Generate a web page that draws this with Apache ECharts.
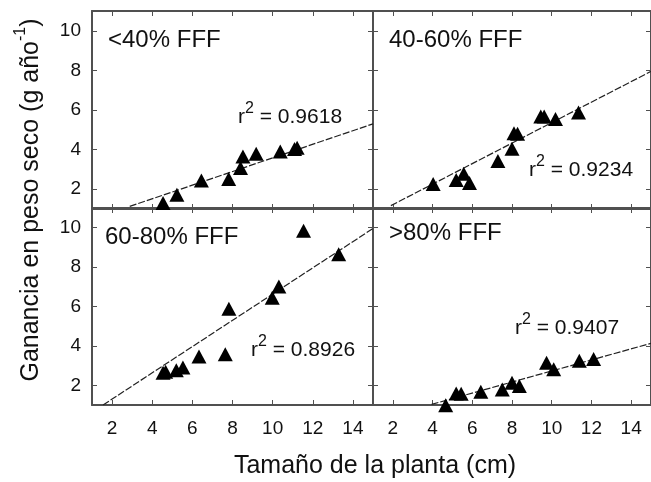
<!DOCTYPE html>
<html><head><meta charset="utf-8">
<script src="https://cdn.jsdelivr.net/npm/echarts@6/dist/echarts.min.js"></script>
<style>html,body{margin:0;padding:0;background:#fff}#c{width:651px;height:482px}</style>
</head><body><div id="c"></div>
<script>
// ---- data ----
const xTicks = [2, 4, 6, 8, 10, 12, 14];
const yTicks = [2, 4, 6, 8, 10];
const panelNames = ['<40% FFF', '40-60% FFF', '60-80% FFF', '>80% FFF'];
const r2Values = ['0.9618', '0.9234', '0.8926', '0.9407'];

const lt40X = [4.54, 5.23, 6.45, 7.81, 8.40, 8.52, 9.18, 10.38, 11.09, 11.22];
const lt40Y = [1.30, 1.72, 2.44, 2.51, 3.07, 3.65, 3.79, 3.90, 4.03, 4.09];

const p40X = [4.03, 5.19, 5.57, 5.86, 7.29, 8.00, 8.10, 8.28, 9.45, 9.62, 10.19, 11.35];
const p40Y = [2.26, 2.47, 2.78, 2.31, 3.43, 4.04, 4.83, 4.80, 5.67, 5.67, 5.54, 5.87];

const p60X = [4.54, 4.67, 5.20, 5.53, 6.33, 7.64, 7.82, 9.98, 10.31, 11.54, 13.29];
const p60Y = [2.64, 2.69, 2.77, 2.90, 3.46, 3.58, 5.88, 6.44, 7.02, 9.84, 8.65];

const gt80X = [4.66, 5.19, 5.44, 6.43, 7.51, 8.00, 8.37, 9.74, 10.10, 11.39, 12.11];
const gt80Y = [0.99, 1.59, 1.57, 1.67, 1.79, 2.13, 1.96, 3.15, 2.81, 3.24, 3.33];

const fitLt40 = [[2.88, 1.13], [15, 5.30]];
const fit40 = [[1.90, 1.17], [15, 7.95]];
const fit60 = [[1.55, 1.00], [15, 9.96]];
const fitGt80 = [[3.95, 1.03], [15, 4.13]];

// ---- layout / style ----
const FONT = '"Liberation Sans", Arial, Helvetica, sans-serif';
const AX = '#505050';
const grids = [
  {left: 92, top: 11, width: 281, height: 198},
  {left: 373, top: 11, width: 283, height: 198},
  {left: 92, top: 208, width: 281, height: 197},
  {left: 373, top: 208, width: 283, height: 197}
];

function xAx(g, pos, showLabel) {
  return {
    type: 'value', gridIndex: g, position: pos, min: 1, max: 15,
    axisLine: {show: true, onZero: false, lineStyle: {color: AX, width: 2}},
    axisTick: {show: true, inside: true, length: 5, customValues: xTicks, lineStyle: {color: AX, width: 1}},
    axisLabel: {show: showLabel, customValues: xTicks, margin: 14, fontSize: 19, color: '#111', fontFamily: FONT},
    splitLine: {show: false}
  };
}
function yAx(g, pos, showLabel) {
  return {
    type: 'value', gridIndex: g, position: pos, min: 1, max: 11,
    axisLine: {show: true, onZero: false, lineStyle: {color: AX, width: 2}},
    axisTick: {show: true, inside: true, length: 5, customValues: yTicks, lineStyle: {color: AX, width: 1}},
    axisLabel: {show: showLabel, customValues: yTicks, margin: 11, fontSize: 19, color: '#111', fontFamily: FONT},
    splitLine: {show: false}
  };
}
const xAxes = [], yAxes = [];
for (let g = 0; g < 4; g++) {
  xAxes.push(xAx(g, 'bottom', g >= 2), xAx(g, 'top', false));
  yAxes.push(yAx(g, 'left', g % 2 === 0), yAx(g, 'right', false));
}

function scatter(xs, ys, g) {
  return {type: 'scatter', xAxisIndex: 2 * g, yAxisIndex: 2 * g, clip: false, z: 4,
    data: xs.map((x, i) => [x, ys[i]]), symbol: 'triangle', symbolSize: [15, 14],
    itemStyle: {color: '#000', opacity: 1}};
}
function fit(pts, g) {
  return {type: 'line', xAxisIndex: 2 * g, yAxisIndex: 2 * g, data: pts, showSymbol: false,
    symbol: 'none', clip: true, z: 3, silent: true,
    lineStyle: {color: '#222', width: 1.2, type: [7, 2]}};
}

const panelPos = [[108, 40], [389, 40], [105, 237], [389, 233]];
const r2Pos = [[238, 114], [529, 167.5], [251, 347], [515, 325]];
const graphics = [];
panelNames.forEach((t, i) => graphics.push({type: 'text', x: panelPos[i][0], y: panelPos[i][1], z: 10,
  style: {text: t, fontSize: 24, fontFamily: FONT, fill: '#111', align: 'left', verticalAlign: 'middle'}}));
r2Values.forEach((v, i) => graphics.push({type: 'text', x: r2Pos[i][0], y: r2Pos[i][1], z: 10,
  style: {text: '{m|r}{s|2}{m| = ' + v + '}', align: 'left', verticalAlign: 'middle', fill: '#111',
    rich: {m: {fontSize: 21, fontFamily: FONT, lineHeight: 27, verticalAlign: 'bottom', fill: '#111'},
           s: {fontSize: 16, fontFamily: FONT, lineHeight: 16, verticalAlign: 'top', fill: '#111'}}}}));
graphics.push({type: 'text', x: 375, y: 466, z: 10,
  style: {text: 'Tamaño de la planta (cm)', fontSize: 25, fontFamily: FONT, fill: '#111', align: 'center', verticalAlign: 'middle'}});
graphics.push({type: 'text', x: 28, y: 200, rotation: Math.PI / 2, z: 10,
  style: {text: '{m|Ganancia en peso seco (g año}{s|-1}{m|)}', align: 'center', verticalAlign: 'middle', fill: '#111',
    rich: {m: {fontSize: 25, fontFamily: FONT, lineHeight: 31, verticalAlign: 'bottom', fill: '#111'},
           s: {fontSize: 16, fontFamily: FONT, lineHeight: 16, verticalAlign: 'top', fill: '#111'}}}});

const chart = echarts.init(document.getElementById('c'), null, {renderer: 'canvas'});
chart.setOption({
  animation: false,
  backgroundColor: '#fff',
  grid: grids,
  xAxis: xAxes,
  yAxis: yAxes,
  series: [
    fit(fitLt40, 0), fit(fit40, 1), fit(fit60, 2), fit(fitGt80, 3),
    scatter(lt40X, lt40Y, 0), scatter(p40X, p40Y, 1), scatter(p60X, p60Y, 2), scatter(gt80X, gt80Y, 3)
  ],
  graphic: graphics
});
</script></body></html>
